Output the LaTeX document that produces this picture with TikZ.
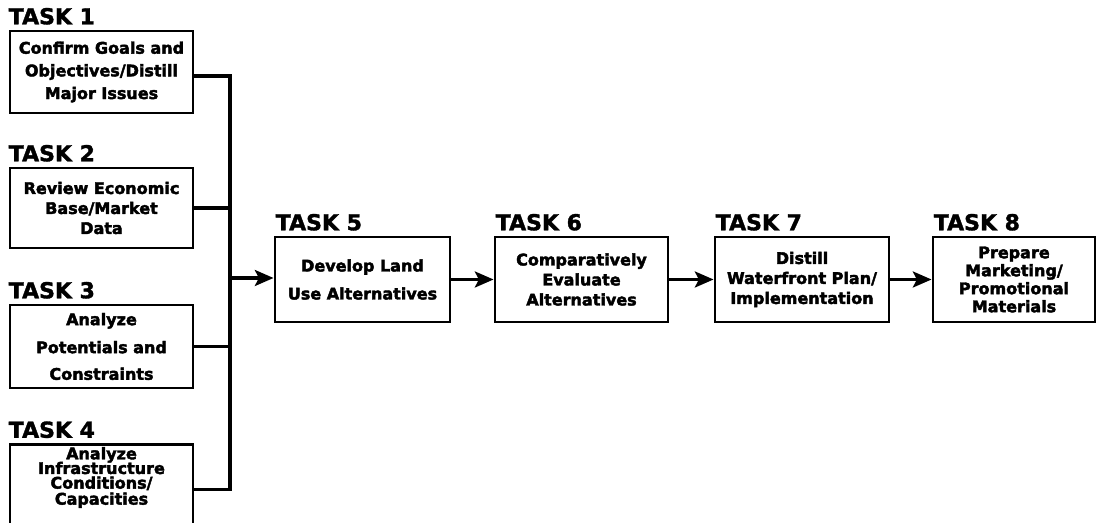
\documentclass[tikz,border=0pt]{standalone}
\usepackage{fontspec}
\usetikzlibrary{arrows.meta,positioning}
\newfontfamily\boxfont[FakeBold=2.5]{DejaVu Sans}
\newfontfamily\taskfont[FakeBold=1.5]{DejaVu Sans}
\def\pxl{0.75pt}
\tikzset{
  taskbox/.style={draw, line width=2.2pt, inner sep=2pt, align=center,
    font=\boxfont\bfseries\fontsize{12}{15}\selectfont},
  tasklabel/.style={inner sep=0pt, font=\taskfont\bfseries\fontsize{16.5}{18}\selectfont},
  flow/.style={line width=2.3pt},
  flowarrow/.style={flow, -{Stealth[length=14pt, width=12pt, inset=3pt]}}
}

\begin{document}
\begin{tikzpicture}[x=\pxl, y=-\pxl]
		%%%%% START %%%%%
		\useasboundingbox (0,0) rectangle (1097,523);
		
		% left column
		\node[taskbox, minimum width=183*\pxl, minimum height=82*\pxl] (t1) at (101.5,72) {Confirm Goals and\\[2pt] Objectives/Distill\\[2pt] Major Issues};
		\node[taskbox, minimum width=183*\pxl, minimum height=80*\pxl] (t2) at (101.5,208) {Review Economic\\ Base/Market\\ Data};
		\node[taskbox, minimum width=183*\pxl, minimum height=83*\pxl] (t3) at (101.5,346.5) {Analyze\\[6pt] Potentials and\\[5pt] Constraints};
		\node[taskbox, minimum width=183*\pxl, anchor=north] (t4) at (101.5,443) {Analyze\\[-4pt] Infrastructure\\[-4pt] Conditions/\\[-3pt] Capacities\rule[-20pt]{0pt}{0pt}};
		
		% main row
		\node[taskbox, minimum width=175*\pxl, minimum height=85*\pxl] (t5) at (362.5,279.5) {Develop Land\\[6pt] Use Alternatives};
		\node[taskbox, minimum width=173*\pxl, minimum height=85*\pxl] (t6) at (581.5,279.5) {Comparatively\\ Evaluate\\ Alternatives};
		\node[taskbox, minimum width=174*\pxl, minimum height=85*\pxl] (t7) at (802,279.5) {Distill\\ Waterfront Plan/\\ Implementation};
		\node[taskbox, minimum width=162*\pxl, minimum height=85*\pxl] (t8) at (1014,279.5) {Prepare\\[-1.5pt] Marketing/\\[-1.5pt] Promotional\\[-1.5pt] Materials};
		
		% labels
		\node[tasklabel, above right=3.5pt and 0pt of t1.north west] (l1) {TASK 1};
		\node[tasklabel, above right=3.5pt and 0pt of t2.north west] (l2) {TASK 2};
		\node[tasklabel, above right=3.5pt and 0pt of t3.north west] (l3) {TASK 3};
		\node[tasklabel, above right=3.5pt and 0pt of t4.north west] (l4) {TASK 4};
		\node[tasklabel, above right=3.5pt and 1.5pt of t5.north west] (l5) {TASK 5};
		\node[tasklabel, above right=3.5pt and 1.5pt of t6.north west] (l6) {TASK 6};
		\node[tasklabel, above right=3.5pt and 1.5pt of t7.north west] (l7) {TASK 7};
		\node[tasklabel, above right=3.5pt and 1.5pt of t8.north west] (l8) {TASK 8};
		
		% connectors
		\coordinate (bus) at (230,278);
		\draw[flow] ([yshift=-3pt]t1.east) -- ([yshift=-3pt]t1.east -| bus) -- (t4.east -| bus) -- (t4.east);
		\draw[flow] (t2.east) -- (t2.east -| bus);
		\draw[flow] (t3.east) -- (t3.east -| bus);
		\draw[flowarrow] (bus) -- (bus -| t5.west);
		\draw[flowarrow] (t5.east) -- (t6.west);
		\draw[flowarrow] (t6.east) -- (t7.west);
		\draw[flowarrow] (t7.east) -- (t8.west);
		%%%%% END %%%%%
	\end{tikzpicture}
\end{document}
